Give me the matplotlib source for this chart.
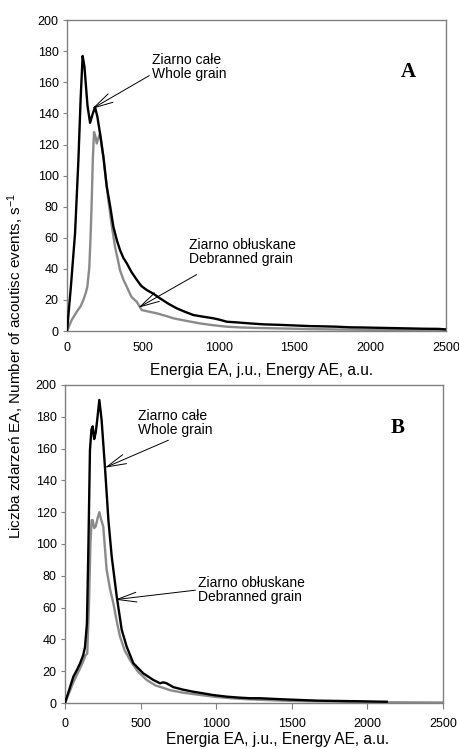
import matplotlib as mpl
import matplotlib.pyplot as plt

mpl.use("Agg")

plt.rcParams["font.family"] = ["Liberation Sans", "DejaVu Sans"]
plt.rcParams["mathtext.default"] = "regular"

# Panel A: energy (a.u.) vs number of events
a_whole_x = [0, 25, 53, 75, 90, 103, 115, 135, 152, 170, 185, 200, 218, 240, 262, 285,
             306, 330, 350, 372, 394, 425, 460, 490, 526, 570, 614, 670, 724, 780, 834,
             900, 966, 1010, 1054, 1130, 1208, 1300, 1400, 1500, 1600, 1700, 1780, 1868,
             1950, 2050, 2150, 2250, 2350, 2450, 2495]
a_whole_y = [0, 28, 63, 110, 150, 177, 170, 145, 134, 140, 144, 138, 127, 112, 93, 80,
             67, 58, 52, 47, 43.6, 38, 33, 29, 26.4, 24, 21, 17.5, 14.6, 12.3, 10.3,
             9.2, 8.2, 7.2, 6, 5.5, 4.9, 4.3, 4.0, 3.6, 3.2, 3.0, 2.8, 2.4,
             2.3, 2.1, 1.9, 1.7, 1.5, 1.4, 1.1]

a_debr_x = [0, 30, 64, 90, 108, 125, 134, 147, 155, 163, 170, 178, 188, 196, 206, 218,
            228, 240, 256, 273, 295, 317, 335, 350, 372, 394, 425, 460, 493, 540, 592,
            650, 702, 790, 878, 960, 1054, 1150, 1250, 1400, 1600, 1800, 2000, 2200,
            2400, 2500]
a_debr_y = [0, 7, 12.4, 16, 20, 25, 28.5, 41, 60, 84, 110, 128, 125, 120.7, 124, 127,
            120, 112, 98, 84, 68, 54, 46, 39, 33, 28.5, 22, 18.8, 13.5, 12.5, 11.4,
            9.8, 8.2, 6.5, 4.9, 3.8, 2.8, 2.3, 2.0, 1.7, 1.3, 1.0, 0.8, 0.6,
            0.5, 0.4]

# Panel B
b_whole_x = [0, 30, 55, 80, 100, 120, 132, 145, 155, 165, 175, 183, 193, 203, 213, 227,
             242, 264, 287, 309, 342, 375, 408, 452, 518, 584, 628, 650, 672, 716, 780,
             848, 900, 980, 1069, 1150, 1223, 1289, 1400, 1500, 1664, 1800, 1950, 2050,
             2127]
b_whole_y = [0, 9, 16.5, 21, 25, 30, 35, 50, 100, 159, 172, 174, 166, 170, 178, 190.6,
             178, 148.6, 115, 92, 67, 46, 35.4, 25, 18.6, 14.5, 12.4, 13, 12.4, 10, 8.4,
             7.1, 6.3, 5, 4, 3.4, 3, 3, 2.5, 2.1, 1.5, 1.3, 1.1, 0.9,
             0.8]

b_debr_x = [0, 30, 55, 80, 100, 120, 135, 147, 158, 168, 176, 183, 193, 203, 215, 227,
            240, 253, 275, 297, 319, 341, 363, 395, 430, 480, 540, 600, 650, 697, 780,
            900, 1000, 1100, 1200, 1350, 1500, 1700, 1900, 2100, 2300, 2500]
b_debr_y = [0, 7, 13, 18, 22, 26, 30, 31, 60, 100, 115, 115, 110, 111, 116, 120,
            115, 111, 84, 72, 63, 52, 42, 33, 27, 20, 14.5, 11, 9.5, 8, 6.5,
            5, 3.8, 3, 2.4, 1.8, 1.3, 1.0, 0.7, 0.5, 0.4, 0.3]

x_ticks = [0, 500, 1000, 1500, 2000, 2500]
y_ticks = [0, 20, 40, 60, 80, 100, 120, 140, 160, 180, 200]

x_label = "Energia EA, j.u., Energy AE, a.u."
y_label = "Liczba zdarzeń EA, Number of acoutisc events, s$^{-1}$"
whole_text = "Ziarno całe\nWhole grain"
debr_text = "Ziarno obłuskane\nDebranned grain"

BLACK = "#000000"
GRAY = "#8a8a8a"
SPINE = "#808080"

fig = plt.figure(figsize=(4.6, 7.49), dpi=100)
ax_a = fig.add_axes([0.1457, 0.558, 0.824, 0.415])
ax_b = fig.add_axes([0.1413, 0.0614, 0.822, 0.4246])

arrow = dict(arrowstyle="->,head_length=1.4,head_width=0.35", color="black",
             lw=0.7, shrinkA=0, shrinkB=0)


def style(ax, xtick_len, label_x, label_pad):
    ax.set_xlim(0, 2500)
    ax.set_ylim(0, 200)
    ax.set_xticks(x_ticks)
    ax.set_yticks(y_ticks)
    for s in ax.spines.values():
        s.set_color(SPINE)
        s.set_linewidth(1.0)
    ax.tick_params(axis="y", direction="out", length=3, width=0.8, color=SPINE,
                   labelsize=9, pad=3)
    ax.tick_params(axis="x", direction="out", length=xtick_len, width=0.8, color=SPINE,
                   labelsize=9, pad=8 if xtick_len == 0 else 7)
    ax.set_xlabel(x_label, fontsize=11.2, labelpad=label_pad, x=label_x)


# Panel A
ax_a.plot(a_debr_x, a_debr_y, color=GRAY, lw=1.7, zorder=2)
ax_a.plot(a_whole_x, a_whole_y, color=BLACK, lw=1.7, zorder=3)
style(ax_a, 0, 0.514, 6)
ax_a.annotate(whole_text, xy=(165, 143), xytext=(561, 170), fontsize=10,
              ha="left", va="center", linespacing=1.05,
              arrowprops=dict(arrow, relpos=(0, 0.25)))
ax_a.annotate(debr_text, xy=(470, 15), xytext=(805, 51), fontsize=10,
              ha="left", va="center", linespacing=1.05,
              arrowprops=dict(arrow, relpos=(0.07, -0.3)))
ax_a.text(2250, 167, "A", fontsize=15, fontweight="bold", ha="center", va="center",
          family=["Liberation Serif", "DejaVu Serif"])

# Panel B
ax_b.plot(b_debr_x, b_debr_y, color=GRAY, lw=1.7, zorder=2)
ax_b.plot(b_whole_x, b_whole_y, color=BLACK, lw=1.7, zorder=3)
style(ax_b, 4, 0.561, 1.5)
ax_b.annotate(whole_text, xy=(264, 148), xytext=(483, 176), fontsize=10,
              ha="left", va="center", linespacing=1.05,
              arrowprops=dict(arrow, relpos=(0.45, -0.05)))
ax_b.annotate(debr_text, xy=(331, 65), xytext=(880, 71), fontsize=10,
              ha="left", va="center", linespacing=1.05,
              arrowprops=dict(arrow, relpos=(-0.02, 0.5)))
ax_b.text(2200, 173, "B", fontsize=15, fontweight="bold", ha="center", va="center",
          family=["Liberation Serif", "DejaVu Serif"])

fig.text(0.035, 0.511, y_label, rotation=90, fontsize=11, ha="center", va="center")

fig.savefig("out.png", dpi=100)
plt.close(fig)
